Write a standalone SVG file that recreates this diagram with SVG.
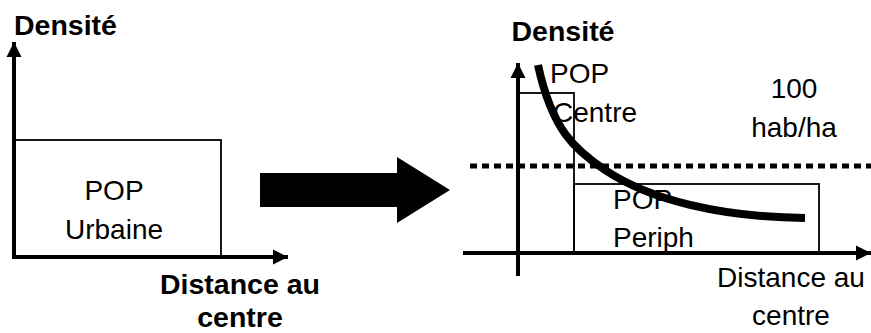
<svg xmlns="http://www.w3.org/2000/svg" width="871" height="333" viewBox="0 0 871 333">
<defs>
<style>
text{font-family:"Liberation Sans",Arial,sans-serif;font-size:28px;fill:#000}
.b{font-weight:bold;font-size:28.5px}
.axis{stroke:#000;stroke-width:4;fill:none}
.box{stroke:#000;stroke-width:1.8;fill:none}
</style>
<marker id="ah" viewBox="0 0 10 10" refX="10" refY="5" markerWidth="15" markerHeight="16" markerUnits="userSpaceOnUse" orient="auto">
<path d="M0,0 L10,5 L0,10 z" fill="#000"/>
</marker>
</defs>
<rect width="871" height="333" fill="#fff"/>
<g id="left-panel">
<g id="left-axes">
<line class="axis" x1="14" y1="259" x2="14" y2="42" marker-end="url(#ah)"/>
<line class="axis" x1="12" y1="257" x2="288" y2="257" marker-end="url(#ah)"/>
</g>
<g id="pop-urbaine">
<rect class="box" x="14" y="140" width="207" height="117"/>
<text x="114" y="200" text-anchor="middle">POP</text>
<text x="114" y="239" text-anchor="middle">Urbaine</text>
</g>
<text class="b" x="14" y="35">Densité</text>
<text class="b" x="240" y="294" text-anchor="middle">Distance au</text>
<text class="b" x="240" y="327" text-anchor="middle">centre</text>
</g>
<g id="big-arrow">
<polygon points="260,173 397,173 397,157 450,190 397,223 397,207 260,207" fill="#000"/>
</g>
<g id="right-panel">
<g id="right-axes">
<line class="axis" x1="518" y1="276" x2="518" y2="63" marker-end="url(#ah)"/>
<line class="axis" x1="463" y1="253" x2="871" y2="253" marker-end="url(#ah)"/>
</g>
<line id="threshold" x1="470" y1="166" x2="871" y2="166" stroke="#000" stroke-width="5" stroke-dasharray="7,5"/>
<g id="pop-centre">
<rect class="box" x="519" y="93" width="55" height="160"/>
<text x="550" y="83">POP</text>
<text x="553" y="122">Centre</text>
</g>
<g id="pop-periph">
<rect class="box" x="574" y="184" width="245" height="69"/>
<text x="613" y="209">POP</text>
<text x="613" y="247">Periph</text>
</g>
<path id="density-curve" d="M538,65 C552,130 575,150 605,170 C650,200 720,217 805,218" fill="none" stroke="#000" stroke-width="8"/>
<text x="794" y="98" text-anchor="middle">100</text>
<text x="794" y="137" text-anchor="middle">hab/ha</text>
<text class="b" x="563" y="41" text-anchor="middle">Densité</text>
<text x="791" y="287" text-anchor="middle">Distance au</text>
<text x="791" y="325" text-anchor="middle">centre</text>
</g>
</svg>
